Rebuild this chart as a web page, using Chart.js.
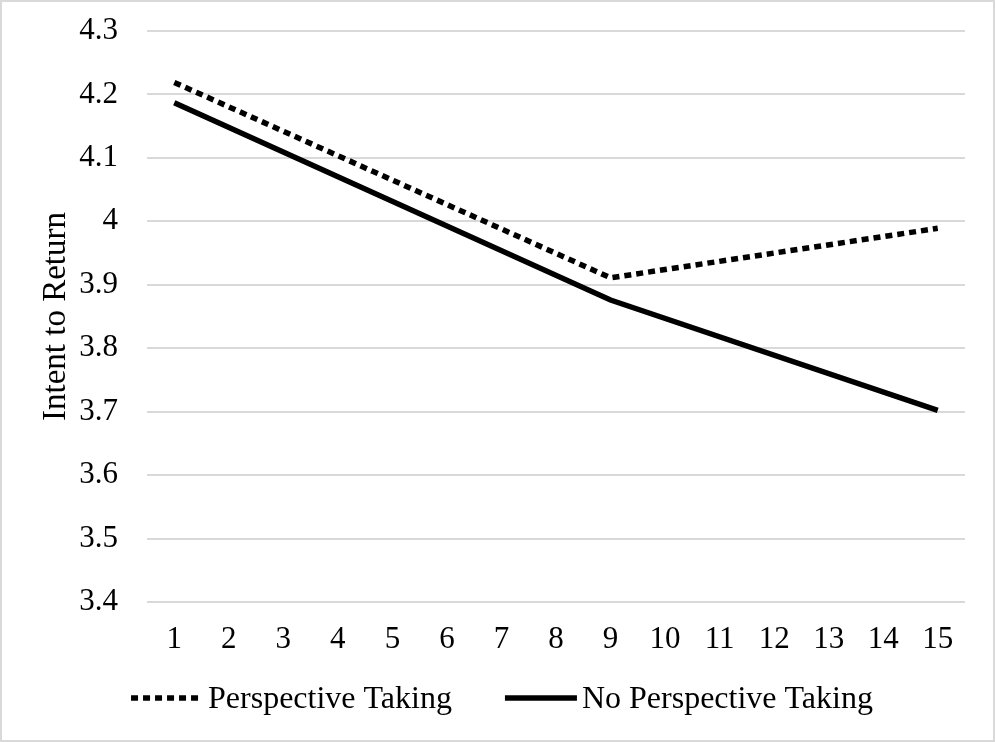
<!DOCTYPE html>
<html>
<head>
<meta charset="utf-8">
<script src="https://cdn.jsdelivr.net/npm/chart.js@4/dist/chart.umd.min.js"></script>
<style>
  html, body { margin: 0; padding: 0; background: #fff; }
  #wrap { width: 995px; height: 742px; position: relative; }
</style>
</head>
<body>
<div id="wrap"><canvas id="chart" width="995" height="742"></canvas></div>
<script>
// Session number on the x axis
const sessions = ['1','2','3','4','5','6','7','8','9','10','11','12','13','14','15'];

// Estimated intent to return at sessions 1, 9 and 15 (other sessions have no estimate)
const perspectiveTaking   = [4.219, null, null, null, null, null, null, null, 3.911, null, null, null, null, null, 3.989];
const noPerspectiveTaking = [4.187, null, null, null, null, null, null, null, 3.876, null, null, null, null, null, 3.702];

const yTicks = [3.4, 3.5, 3.6, 3.7, 3.8, 3.9, 4, 4.1, 4.2, 4.3];

const FONT = '"Liberation Serif", "Times New Roman", serif';

// White background with a thin grey frame around the whole figure
const framePlugin = {
  id: 'frame',
  beforeDraw(chart) {
    const { ctx, width, height } = chart;
    ctx.save();
    ctx.fillStyle = '#ffffff';
    ctx.fillRect(0, 0, width, height);
    ctx.strokeStyle = '#d9d9d9';
    ctx.lineWidth = 2;
    ctx.strokeRect(1, 1, width - 2, height - 2);
    ctx.restore();
  }
};

// Bottom legend: a line sample in each series' style followed by its name
const lineLegendPlugin = {
  id: 'lineLegend',
  afterDraw(chart, args, opts) {
    const { ctx } = chart;
    const sample = opts.sampleWidth, gap = opts.textGap, itemGap = opts.itemGap;
    ctx.save();
    ctx.font = opts.fontSize + 'px ' + FONT;
    const items = chart.data.datasets.map(ds => ({ ds, w: ctx.measureText(ds.label).width }));
    const total = items.reduce((s, it) => s + sample + gap + it.w, 0) + itemGap * (items.length - 1);
    let x = opts.centerX - total / 2;
    items.forEach(({ ds, w }) => {
      ctx.beginPath();
      ctx.strokeStyle = ds.borderColor;
      ctx.lineWidth = ds.borderWidth;
      ctx.lineCap = 'butt';
      ctx.setLineDash(ds.borderDash || []);
      ctx.moveTo(x, opts.lineY);
      ctx.lineTo(x + sample, opts.lineY);
      ctx.stroke();
      ctx.setLineDash([]);
      ctx.fillStyle = '#000000';
      ctx.textAlign = 'left';
      ctx.textBaseline = 'alphabetic';
      ctx.fillText(ds.label, x + sample + gap, opts.baselineY);
      x += sample + gap + w + itemGap;
    });
    ctx.restore();
  }
};

new Chart(document.getElementById('chart'), {
  type: 'line',
  data: {
    labels: sessions,
    datasets: [
      {
        label: 'Perspective Taking',
        data: perspectiveTaking,
        borderColor: '#000000',
        backgroundColor: '#000000',
        borderWidth: 5.5,
        borderDash: [7, 5],
        borderCapStyle: 'butt',
        pointRadius: 0,
        spanGaps: true,
        tension: 0
      },
      {
        label: 'No Perspective Taking',
        data: noPerspectiveTaking,
        borderColor: '#000000',
        backgroundColor: '#000000',
        borderWidth: 5.5,
        borderCapStyle: 'butt',
        pointRadius: 0,
        spanGaps: true,
        tension: 0
      }
    ]
  },
  options: {
    responsive: false,
    animation: false,
    devicePixelRatio: 1,
    layout: { padding: { left: 40, right: 30, top: 31, bottom: 0 } },
    plugins: {
      legend: { display: false },
      tooltip: { enabled: false },
      lineLegend: {
        sampleWidth: 72,
        textGap: 5,
        itemGap: 53,
        fontSize: 32,
        centerX: 502,
        lineY: 698,
        baselineY: 708
      }
    },
    scales: {
      x: {
        offset: true,
        grid: { display: false, drawTicks: false },
        border: { display: false },
        ticks: {
          color: '#000000',
          padding: 19,
          maxRotation: 0,
          autoSkip: false,
          font: { family: FONT, size: 31 }
        },
        afterFit(scale) { scale.height = 140; }
      },
      y: {
        min: 3.4,
        max: 4.3,
        afterBuildTicks(scale) { scale.ticks = yTicks.map(v => ({ value: v })); },
        grid: { color: '#d9d9d9', lineWidth: 2, drawTicks: false },
        border: { display: false },
        ticks: {
          color: '#000000',
          padding: 29,
          font: { family: FONT, size: 31 },
          callback: v => String(Math.round(v * 10) / 10)
        },
        title: {
          display: true,
          text: 'Intent to Return',
          color: '#000000',
          padding: { top: -3, bottom: 0 },
          font: { family: FONT, size: 33, weight: 'normal' }
        },
        afterFit(scale) {
          scale.width = 107;
          scale.paddingTop = 0;
          scale.paddingBottom = 0;
        }
      }
    }
  },
  plugins: [framePlugin, lineLegendPlugin]
});
</script>
</body>
</html>
